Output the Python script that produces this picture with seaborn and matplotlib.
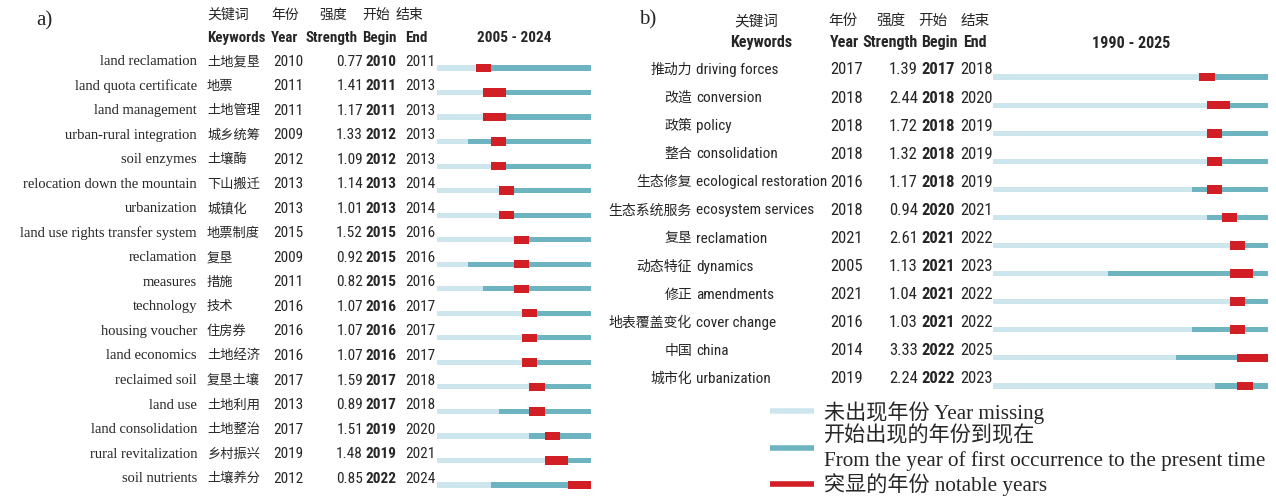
"""CiteSpace-style keyword burst tables: a) 2005-2024, b) 1990-2025."""

import matplotlib.pyplot as plt
import seaborn as sns
from matplotlib import font_manager
from matplotlib.font_manager import FontProperties
from matplotlib.lines import Line2D
from matplotlib.transforms import blended_transform_factory

# ---- panel a data ----
a_en = [
    "land reclamation", "land quota certificate", "land management",
    "urban-rural integration", "soil enzymes", "relocation down the mountain",
    "urbanization", "land use rights transfer system", "reclamation", "measures",
    "technology", "housing voucher", "land economics", "reclaimed soil", "land use",
    "land consolidation", "rural revitalization", "soil nutrients",
]
a_cn = [
    "土地复垦", "地票", "土地管理", "城乡统筹", "土壤酶", "下山搬迁", "城镇化", "地票制度",
    "复垦", "措施", "技术", "住房券", "土地经济", "复垦土壤", "土地利用", "土地整治",
    "乡村振兴", "土壤养分",
]
a_year = [2010, 2011, 2011, 2009, 2012, 2013, 2013, 2015, 2009, 2011,
          2016, 2016, 2016, 2017, 2013, 2017, 2019, 2012]
a_strength = [0.77, 1.41, 1.17, 1.33, 1.09, 1.14, 1.01, 1.52, 0.92, 0.82,
              1.07, 1.07, 1.07, 1.59, 0.89, 1.51, 1.48, 0.85]
a_begin = [2010, 2011, 2011, 2012, 2012, 2013, 2013, 2015, 2015, 2015,
           2016, 2016, 2016, 2017, 2017, 2019, 2019, 2022]
a_end = [2011, 2013, 2013, 2013, 2013, 2014, 2014, 2016, 2016, 2016,
         2017, 2017, 2017, 2018, 2018, 2020, 2021, 2024]
a_range = (2005, 2024)

# ---- panel b data ----
b_cn = ["推动力", "改造", "政策", "整合", "生态修复", "生态系统服务", "复垦", "动态特征",
        "修正", "地表覆盖变化", "中国", "城市化"]
b_en = ["driving forces", "conversion", "policy", "consolidation", "ecological restoration",
        "ecosystem services", "reclamation", "dynamics", "amendments", "cover change",
        "china", "urbanization"]
b_year = [2017, 2018, 2018, 2018, 2016, 2018, 2021, 2005, 2021, 2016, 2014, 2019]
b_strength = [1.39, 2.44, 1.72, 1.32, 1.17, 0.94, 2.61, 1.13, 1.04, 1.03, 3.33, 2.24]
b_begin = [2017, 2018, 2018, 2018, 2018, 2020, 2021, 2021, 2021, 2021, 2022, 2022]
b_end = [2018, 2020, 2019, 2019, 2019, 2021, 2022, 2023, 2022, 2022, 2025, 2023]
b_range = (1990, 2025)

LIGHT = "#cde6ee"
TEAL = "#6db4c0"
RED = "#d21f26"

sns.set_theme(style="white")
_fonts = font_manager.fontManager.ttflist
_names = {f.name for f in _fonts}
_bold = {f.name for f in _fonts if f.weight in (600, 700, "bold", "semibold")}
NARROW = next((n for n in ["Roboto Condensed", "Liberation Sans Narrow", "Open Sans Condensed",
                           "Roboto", "Noto Sans"] if n in _names), "DejaVu Sans")
BOLD = next((n for n in [NARROW, "Roboto", "Open Sans", "Lato", "Liberation Sans"]
             if n in _bold), "DejaVu Sans")
CJK = "Noto Sans CJK SC"
SERIF = "Liberation Serif"
plt.rcParams["font.family"] = [NARROW, CJK]

W, H = 1276, 499
fig = plt.figure(figsize=(W / 100, H / 100), dpi=100)

# overlay axes in pixel coordinates, only for text placement
ov = fig.add_axes([0, 0, 1, 1])
ov.set_xlim(0, W)
ov.set_ylim(H, 0)
ov.axis("off")


def add_bar_axes(x0, x1, y_first, y_last, n, yr):
    step = (y_last - y_first) / (n - 1)
    top, bottom = y_first - step / 2, y_last + step / 2
    ax = fig.add_axes([x0 / W, 1 - bottom / H, (x1 - x0) / W, (bottom - top) / H])
    ax.set_xlim(yr[0], yr[1] + 1)
    ax.set_ylim(n - 0.5, -0.5)
    ax.axis("off")
    return ax


def draw_bursts(ax, first, begin, end, yr, thin, thick):
    for i, (f, b, e) in enumerate(zip(first, begin, end)):
        ax.barh(i, yr[1] + 1 - yr[0], left=yr[0], height=thin, color=LIGHT, lw=0)
        ax.barh(i, yr[1] + 1 - f, left=f, height=thin, color=TEAL, lw=0)
        ax.barh(i, e + 1 - b, left=b, height=thick, color=RED, lw=0)


# ---- panel a ----
ax_a = add_bar_axes(437, 591, 68, 485, len(a_en), a_range)
draw_bursts(ax_a, a_year, a_begin, a_end, a_range, 0.21, 0.34)
tr_a = blended_transform_factory(ov.transData, ax_a.transData)
for i in range(len(a_en)):
    y = i - 0.26
    ov.text(197, y, a_en[i], transform=tr_a, ha="right", va="center",
            family=SERIF, fontsize=10.5)
    ov.text(207, y, a_cn[i], transform=tr_a, ha="left", va="center", family=CJK, fontsize=9.5)
    ov.text(273, y, str(a_year[i]), transform=tr_a, ha="left", va="center", fontsize=11)
    ov.text(363, y, f"{a_strength[i]:.2f}", transform=tr_a, ha="right", va="center",
            fontsize=11)
    ov.text(365, y, str(a_begin[i]), transform=tr_a, ha="left", va="center",
            family=BOLD, fontsize=11, fontweight="bold")
    ov.text(405, y, str(a_end[i]), transform=tr_a, ha="left", va="center", fontsize=11)

ov.text(44, 21, "a)", ha="center", va="center", family=SERIF, fontsize=15)
for x, s in [(207, "关键词"), (271, "年份"), (319, "强度"), (362, "开始"), (396, "结束")]:
    ov.text(x, 15, s, ha="left", va="center", family=CJK, fontsize=10)
for x, s in [(207, "Keywords"), (271, "Year"), (305, "Strength"), (362, "Begin"), (405, "End")]:
    ov.text(x, 38, s, ha="left", va="center", family=BOLD, fontsize=10.8, fontweight="bold")
ov.text(514, 38, f"{a_range[0]} - {a_range[1]}", ha="center", va="center",
        family=BOLD, fontsize=11, fontweight="bold")

# ---- panel b ----
ax_b = add_bar_axes(993, 1268, 77, 386, len(b_en), b_range)
draw_bursts(ax_b, b_year, b_begin, b_end, b_range, 0.18, 0.31)
tr_b = blended_transform_factory(ov.transData, ax_b.transData)
for i in range(len(b_en)):
    y = i - 0.25
    ov.text(692, y, b_cn[i], transform=tr_b, ha="right", va="center", family=CJK, fontsize=10)
    ov.text(696, y, b_en[i], transform=tr_b, ha="left", va="center", fontsize=11)
    ov.text(830, y, str(b_year[i]), transform=tr_b, ha="left", va="center", fontsize=12)
    ov.text(918, y, f"{b_strength[i]:.2f}", transform=tr_b, ha="right", va="center",
            fontsize=12)
    ov.text(921, y, str(b_begin[i]), transform=tr_b, ha="left", va="center",
            family=BOLD, fontsize=12, fontweight="bold")
    ov.text(960, y, str(b_end[i]), transform=tr_b, ha="left", va="center", fontsize=12)

ov.text(648, 20, "b)", ha="center", va="center", family=SERIF, fontsize=15)
for x, s in [(756, "关键词"), (843, "年份"), (891, "强度"), (933, "开始"), (975, "结束")]:
    ov.text(x, 21, s, ha="center", va="center", family=CJK, fontsize=10.5)
for x, s in [(761, "Keywords"), (845, "Year"), (890, "Strength"), (939, "Begin"), (975, "End")]:
    ov.text(x, 42, s, ha="center", va="center", family=BOLD, fontsize=11.5,
            fontweight="bold")
ov.text(1131, 43, f"{b_range[0]} - {b_range[1]}", ha="center", va="center",
        family=BOLD, fontsize=11.5, fontweight="bold")

# ---- legend ----
handles = [Line2D([], [], color=c, lw=4, solid_capstyle="butt") for c in (LIGHT, TEAL, RED)]
labels = [
    "未出现年份 Year missing",
    "开始出现的年份到现在\nFrom the year of first occurrence to the present time",
    "突显的年份 notable years",
]
leg = fig.legend(handles, labels, loc="upper left", bbox_to_anchor=(770 / W, 1 - 401 / H),
                 frameon=False, borderpad=0, borderaxespad=0, labelspacing=0.1,
                 handlelength=2.1, handletextpad=0.45,
                 prop=FontProperties(family=[SERIF, CJK], size=15.2))
for t in leg.get_texts():
    t.set_linespacing(1.35)

fig.savefig("out.png", dpi=100)
